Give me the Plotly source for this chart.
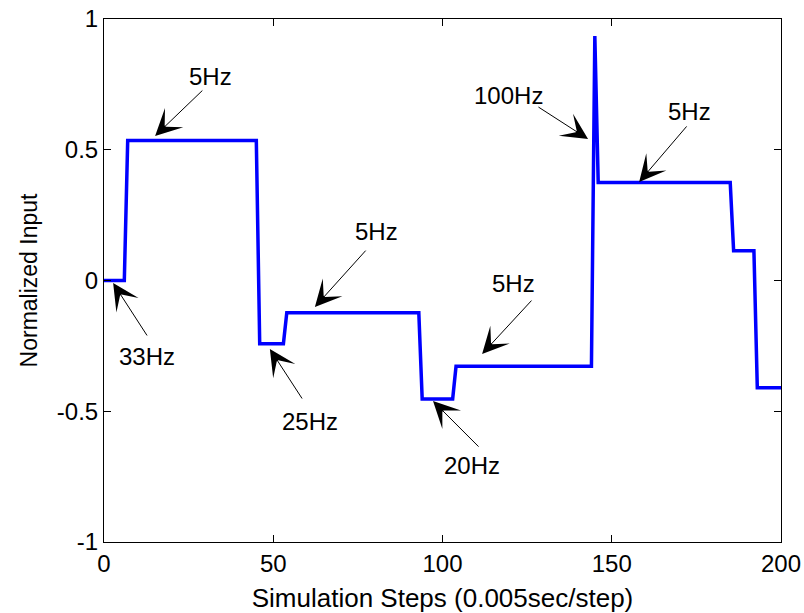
import plotly.graph_objects as go

# Vertices of the input signal (simulation step, normalized input)
steps = [0, 6, 7, 45, 46, 53, 54, 93, 94, 103, 104, 144, 145, 146, 185, 186, 192, 193, 200]
values = [0, 0, 0.535, 0.535, -0.242, -0.242, -0.123, -0.123, -0.453, -0.453,
          -0.328, -0.328, 0.935, 0.375, 0.375, 0.114, 0.114, -0.41, -0.41]

# Annotation labels
labels = ["33Hz", "5Hz", "5Hz", "25Hz", "5Hz", "20Hz", "100Hz", "5Hz"]
# arrow head (x, y), arrow tail (x, y), text position (x, y)
heads = [(2.7, -0.01), (15.1, 0.553), (62.3, -0.101), (49.0, -0.262),
         (111.7, -0.281), (97.2, -0.461), (143.0, 0.541), (158.1, 0.377)]
tails = [(13.0, -0.216), (29.5, 0.732), (77.7, 0.120), (58.8, -0.457),
         (126.7, -0.071), (111.1, -0.641), (127.9, 0.667), (172.5, 0.595)]
text_pos = [(12.7, -0.289), (31.6, 0.782), (80.4, 0.189), (60.9, -0.541),
            (121.1, -0.010), (108.7, -0.706), (119.4, 0.706), (173.1, 0.648)]

FONT = "Liberation Sans, Arial, sans-serif"

fig = go.Figure()
fig.add_trace(go.Scatter(x=steps, y=values, mode="lines",
                         line=dict(color="#0000FF", width=3.5),
                         showlegend=False, hoverinfo="skip"))

annotations = []
for lab, h, t, p in zip(labels, heads, tails, text_pos):
    annotations.append(dict(x=h[0], y=h[1], ax=t[0], ay=t[1], xref="x", yref="y",
                            axref="x", ayref="y", text="", showarrow=True,
                            arrowhead=3, arrowsize=4.4, arrowwidth=1,
                            arrowcolor="black", standoff=0))
    annotations.append(dict(x=p[0], y=p[1], xref="x", yref="y", text=lab,
                            showarrow=False,
                            font=dict(family=FONT, size=24, color="black")))

fig.update_layout(
    width=804, height=613,
    margin=dict(l=104, r=23, t=19, b=71, autoexpand=False),
    paper_bgcolor="white", plot_bgcolor="white",
    font=dict(family=FONT, size=24, color="black"),
    annotations=annotations,
    xaxis=dict(range=[0, 200], tickvals=[0, 50, 100, 150, 200],
               ticktext=["0", "50", "100", "150", "200"],
               ticks="inside", ticklen=7, tickcolor="black",
               showline=True, linecolor="black", linewidth=1, mirror="ticks",
               showgrid=False, zeroline=False, automargin=False,
               title=dict(text="Simulation Steps (0.005sec/step)", standoff=14,
                          font=dict(size=26)),
               tickfont=dict(size=24)),
    yaxis=dict(range=[-1, 1], tickvals=[-1, -0.5, 0, 0.5, 1],
               ticktext=["-1", "-0.5", "0", "0.5", "1"],
               ticks="inside", ticklen=7, tickcolor="black",
               showline=True, linecolor="black", linewidth=1, mirror="ticks",
               showgrid=False, zeroline=False, automargin=False,
               title=dict(text="Normalized Input", standoff=12,
                          font=dict(size=23)),
               tickfont=dict(size=24)),
)

fig.write_html("out.html")
